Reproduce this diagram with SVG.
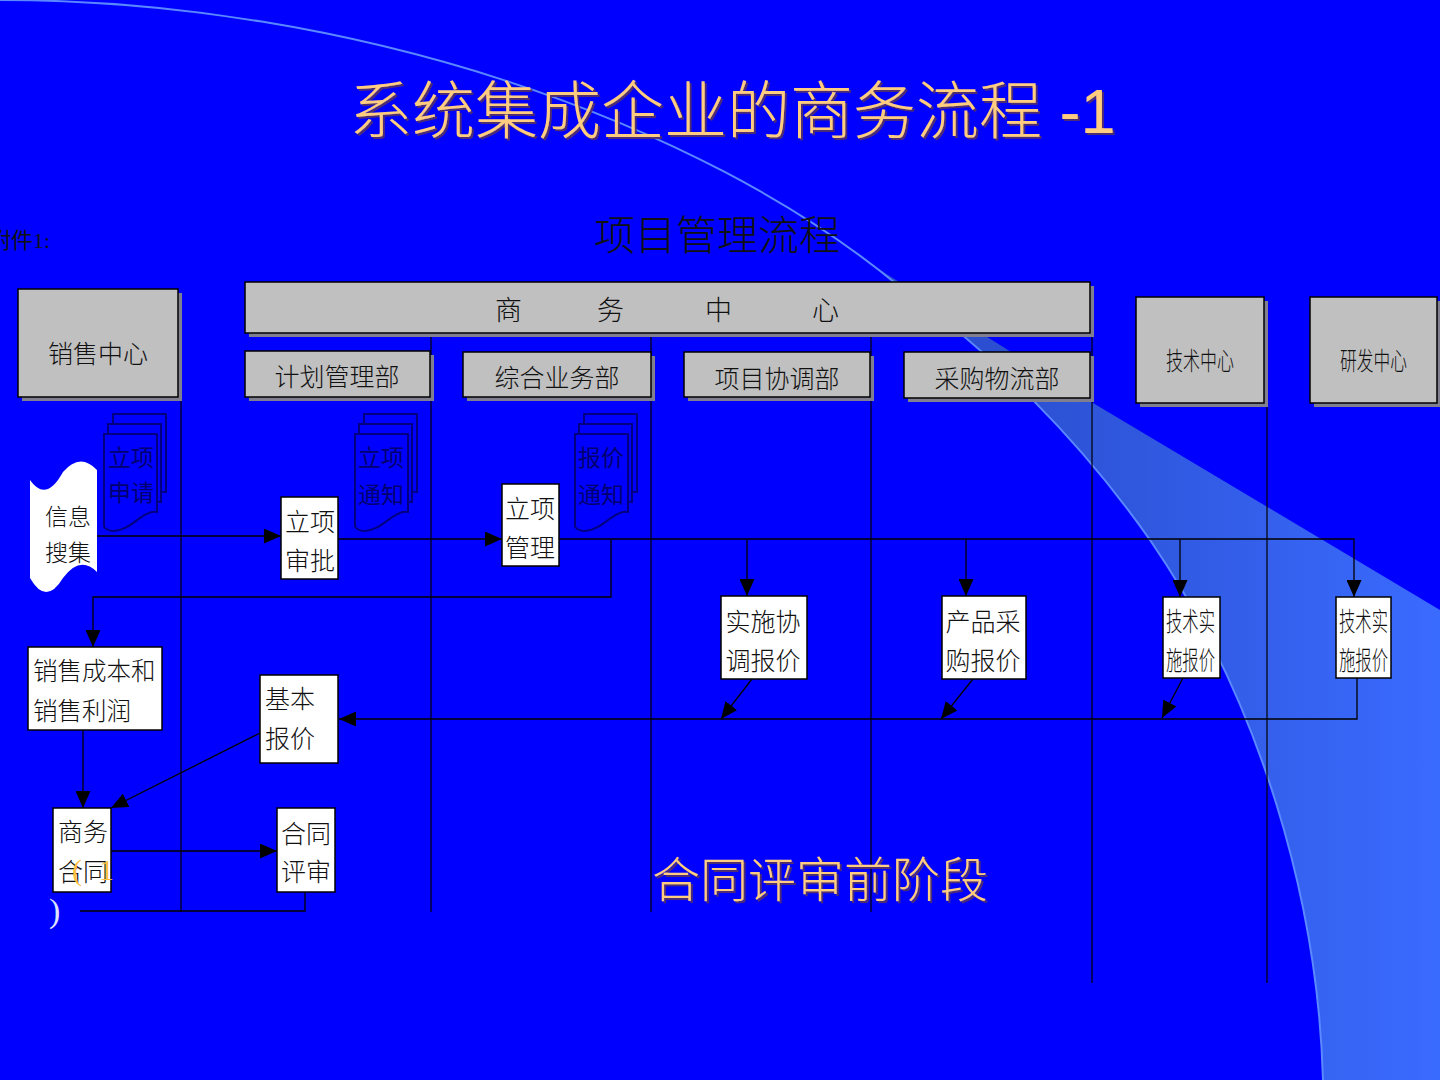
<svg xmlns="http://www.w3.org/2000/svg" width="1440" height="1080" viewBox="0 0 1440 1080">
<defs>
<style>
.cjk{font-family:'Noto Sans CJK SC','Liberation Sans',sans-serif;fill:#111;font-weight:300}
.hdr{fill:#c0c0c0;stroke:#000;stroke-width:1.5}
.shd{fill:#7f7f8f}
.wbox{fill:#fff;stroke:#000;stroke-width:1.5}
.lane{stroke:#000;stroke-width:1.2;fill:none}
.con{stroke:#000;stroke-width:1.3;fill:none}
.doc{fill:#0000ff;stroke:#000080;stroke-width:2}
.doct{font-family:'Noto Sans CJK SC',sans-serif;fill:#000070;font-size:23px;text-anchor:middle;font-weight:400}
.orange{font-family:'Liberation Sans','Noto Sans CJK SC',sans-serif;fill:#ffcc80;font-weight:300}
</style>
<linearGradient id="band" gradientUnits="userSpaceOnUse" x1="1000" y1="0" x2="1440" y2="0">
<stop offset="0" stop-color="#2b4fd0"/>
<stop offset="1" stop-color="#3a6bff"/>
</linearGradient>
<filter id="tsh" x="-5%" y="-20%" width="110%" height="140%">
<feDropShadow dx="2" dy="2" stdDeviation="0.5" flood-color="#553366" flood-opacity="0.9"/>
</filter>
<marker id="arr" viewBox="0 0 17 15" refX="17" refY="7.5" markerWidth="17" markerHeight="15" markerUnits="userSpaceOnUse" orient="auto">
<path d="M0,0 L17,7.5 L0,15 Z" fill="#000"/>
</marker>
<path id="page" d="M0,0 H53 V78 C38,76 28,96 10,97 C4,97 0,94 0,92 Z"/>
</defs>

<!-- background -->
<rect x="0" y="0" width="1440" height="1080" fill="#0000ff"/>
<path d="M880,270 L1093,403 L1440,610 L1440,1080 L1323,1080 C1318,900 1260,700 1150,540 C1080,440 990,350 900,287 Z" fill="url(#band)"/>
<path d="M0,0 C350,0 700,120 900,287 C990,350 1080,440 1150,540 C1260,700 1318,900 1323,1080" fill="none" stroke="#5a88ff" stroke-width="2"/>

<!-- titles -->
<text class="orange" x="349" y="133" font-size="63" filter="url(#tsh)">系统集成企业的商务流程 -1</text>
<text class="cjk" x="717" y="250" font-size="41" text-anchor="middle" fill="#000">项目管理流程</text>
<text x="-11" y="248" font-size="22" font-family="'Liberation Serif','Noto Sans CJK SC',serif" fill="#111">附件1:</text>

<!-- lane lines -->
<g id="lanes">
<line class="lane" x1="181" y1="401" x2="181" y2="912"/>
<line class="lane" x1="431" y1="337" x2="431" y2="912"/>
<line class="lane" x1="651" y1="337" x2="651" y2="912"/>
<line class="lane" x1="871" y1="337" x2="871" y2="912"/>
<line class="lane" x1="1092" y1="290" x2="1092" y2="983" stroke-width="2"/>
<line class="lane" x1="1267" y1="403" x2="1267" y2="983"/>
</g>

<!-- header boxes -->
<g id="sales-center">
<rect class="shd" x="22" y="293" width="160" height="108"/>
<rect class="hdr" x="18" y="289" width="160" height="108"/>
<text class="cjk" x="98" y="363" font-size="25" text-anchor="middle">销售中心</text>
</g>
<g id="business-center">
<rect class="shd" x="249" y="286" width="845" height="51"/>
<rect class="hdr" x="245" y="282" width="845" height="51"/>
<text class="cjk" y="320" font-size="27"><tspan x="495">商</tspan><tspan x="597">务</tspan><tspan x="705">中</tspan><tspan x="812">心</tspan></text>
</g>
<g id="plan-dept">
<rect class="shd" x="249" y="355" width="185" height="46"/>
<rect class="hdr" x="245" y="351" width="185" height="46"/>
<text class="cjk" x="337" y="386" font-size="25" text-anchor="middle">计划管理部</text>
</g>
<g id="general-dept">
<rect class="shd" x="467" y="356" width="188" height="45"/>
<rect class="hdr" x="463" y="352" width="188" height="45"/>
<text class="cjk" x="557" y="387" font-size="25" text-anchor="middle">综合业务部</text>
</g>
<g id="coord-dept">
<rect class="shd" x="688" y="356" width="186" height="45"/>
<rect class="hdr" x="684" y="352" width="186" height="45"/>
<text class="cjk" x="777" y="388" font-size="25" text-anchor="middle">项目协调部</text>
</g>
<g id="purchase-dept">
<rect class="shd" x="908" y="356" width="186" height="46"/>
<rect class="hdr" x="904" y="352" width="186" height="46"/>
<text class="cjk" x="997" y="388" font-size="25" text-anchor="middle">采购物流部</text>
</g>
<g id="tech-center">
<rect class="shd" x="1140" y="301" width="128" height="106"/>
<rect class="hdr" x="1136" y="297" width="128" height="106"/>
<text class="cjk" x="1166" y="370" font-size="25" textLength="68" lengthAdjust="spacingAndGlyphs">技术中心</text>
</g>
<g id="rd-center">
<rect class="shd" x="1314" y="301" width="127" height="106"/>
<rect class="hdr" x="1310" y="297" width="127" height="106"/>
<text class="cjk" x="1340" y="370" font-size="25" textLength="67" lengthAdjust="spacingAndGlyphs">研发中心</text>
</g>

<!-- documents -->
<g id="doc-apply">
<use href="#page" class="doc" x="113" y="414"/>
<use href="#page" class="doc" x="108" y="424"/>
<use href="#page" class="doc" x="104" y="434"/>
<text class="doct" x="131" y="466">立项</text>
<text class="doct" x="131" y="501">申请</text>
</g>
<g id="doc-notice">
<use href="#page" class="doc" x="364" y="414"/>
<use href="#page" class="doc" x="359" y="424"/>
<use href="#page" class="doc" x="355" y="434"/>
<text class="doct" x="381" y="466">立项</text>
<text class="doct" x="381" y="503">通知</text>
</g>
<g id="doc-quote">
<use href="#page" class="doc" x="584" y="414"/>
<use href="#page" class="doc" x="579" y="424"/>
<use href="#page" class="doc" x="575" y="434"/>
<text class="doct" x="601" y="466">报价</text>
<text class="doct" x="601" y="503">通知</text>
</g>

<!-- connectors -->
<g id="connectors">
<path class="con" d="M97,536 H281" marker-end="url(#arr)"/>
<path class="con" d="M338,539 H502" marker-end="url(#arr)"/>
<path class="con" d="M559,539 H1354 V597" marker-end="url(#arr)"/>
<path class="con" d="M747,539 V596" marker-end="url(#arr)"/>
<path class="con" d="M966,539 V596" marker-end="url(#arr)"/>
<path class="con" d="M1180,539 V597" marker-end="url(#arr)"/>
<path class="con" d="M611,539 V597 H93 V647" marker-end="url(#arr)"/>
<path class="con" d="M83,730 V808" marker-end="url(#arr)"/>
<path class="con" d="M260,733 L111,808" marker-end="url(#arr)"/>
<path class="con" d="M111,851 H277" marker-end="url(#arr)"/>
<path class="con" d="M305,892 V911 H80"/>
<path class="con" d="M1357,678 V719 H339" marker-end="url(#arr)"/>
<path class="con" d="M752,679 L721,719" marker-end="url(#arr)"/>
<path class="con" d="M973,679 L941,719" marker-end="url(#arr)"/>
<path class="con" d="M1183,678 L1162,718" marker-end="url(#arr)"/>
</g>

<!-- process nodes -->
<g id="info-collect">
<path d="M30,480 Q46,503 63,472 Q80,452 97,470 L97,572 Q80,555 63,578 Q46,606 30,578 Z" fill="#fff"/>
<text class="cjk" x="68" y="525" font-size="23" text-anchor="middle">信息</text>
<text class="cjk" x="68" y="561" font-size="23" text-anchor="middle">搜集</text>
</g>
<g id="approve">
<rect class="wbox" x="281" y="497" width="57" height="82"/>
<text class="cjk" x="310" y="531" font-size="25" text-anchor="middle">立项</text>
<text class="cjk" x="310" y="570" font-size="25" text-anchor="middle">审批</text>
</g>
<g id="manage">
<rect class="wbox" x="502" y="484" width="57" height="82"/>
<text class="cjk" x="530" y="518" font-size="25" text-anchor="middle">立项</text>
<text class="cjk" x="530" y="557" font-size="25" text-anchor="middle">管理</text>
</g>
<g id="impl-quote">
<rect class="wbox" x="721" y="596" width="86" height="83"/>
<text class="cjk" x="763" y="631" font-size="25" text-anchor="middle">实施协</text>
<text class="cjk" x="763" y="670" font-size="25" text-anchor="middle">调报价</text>
</g>
<g id="purchase-quote">
<rect class="wbox" x="942" y="596" width="84" height="83"/>
<text class="cjk" x="983" y="631" font-size="25" text-anchor="middle">产品采</text>
<text class="cjk" x="983" y="670" font-size="25" text-anchor="middle">购报价</text>
</g>
<g id="tech-quote-1">
<rect class="wbox" x="1163" y="597" width="57" height="81"/>
<text class="cjk" x="1166" y="631" font-size="26" textLength="49" lengthAdjust="spacingAndGlyphs">技术实</text>
<text class="cjk" x="1166" y="670" font-size="26" textLength="49" lengthAdjust="spacingAndGlyphs">施报价</text>
</g>
<g id="tech-quote-2">
<rect class="wbox" x="1336" y="597" width="55" height="81"/>
<text class="cjk" x="1339" y="631" font-size="26" textLength="49" lengthAdjust="spacingAndGlyphs">技术实</text>
<text class="cjk" x="1339" y="670" font-size="26" textLength="49" lengthAdjust="spacingAndGlyphs">施报价</text>
</g>
<g id="sales-cost">
<rect class="wbox" x="28" y="647" width="134" height="83"/>
<text class="cjk" x="33" y="680" font-size="24.5">销售成本和</text>
<text class="cjk" x="33" y="720" font-size="24.5">销售利润</text>
</g>
<g id="base-quote">
<rect class="wbox" x="260" y="675" width="78" height="88"/>
<text class="cjk" x="265" y="708" font-size="25">基本</text>
<text class="cjk" x="265" y="748" font-size="25">报价</text>
</g>
<g id="contract">
<rect class="wbox" x="53" y="808" width="58" height="84"/>
<text class="cjk" x="58" y="841" font-size="25">商务</text>
<text class="cjk" x="58" y="881" font-size="25">合同</text>
<text y="880" font-size="30" font-family="'Liberation Serif',serif" fill="#ffc040"><tspan x="72">(</tspan><tspan x="99">1</tspan></text>
<text x="49" y="922" font-size="34" font-family="'Liberation Serif',serif" fill="#dde0ff">)</text>
</g>
<g id="contract-review">
<rect class="wbox" x="277" y="808" width="58" height="84"/>
<text class="cjk" x="306" y="843" font-size="25" text-anchor="middle">合同</text>
<text class="cjk" x="306" y="881" font-size="25" text-anchor="middle">评审</text>
</g>

<text class="orange" x="652" y="897" font-size="48" filter="url(#tsh)">合同评审前阶段</text>
</svg>
